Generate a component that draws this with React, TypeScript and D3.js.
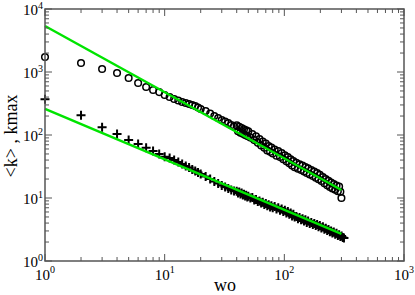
import React from "react";
import * as d3 from "d3";

// kmax (circles)
const woKmax = [1, 2, 3, 4, 5, 6, 7, 8, 9, 10, 11, 12, 13, 14, 15, 16, 17, 18, 19, 20,
  22, 24, 26, 28, 30, 32, 34, 36, 38, 40, 41, 42, 43, 44, 45, 46, 47, 48, 49, 50, 52,
  54, 56, 58, 60, 62, 64, 66, 68, 70, 72, 74, 76, 78, 80, 83, 86, 89, 92, 95, 98, 101,
  104, 107, 110, 113, 116, 119, 122, 126, 130, 134, 138, 142, 146, 150, 154, 158, 163,
  168, 173, 178, 183, 188, 193, 198, 204, 210, 216, 222, 228, 234, 240, 246, 252, 259,
  266, 273, 280, 287, 294, 300];
const kmax = [1730, 1390, 1117, 964, 803, 669, 577, 518, 480, 431, 401, 373, 353, 334,
  322, 310, 299, 289, 273, 259, 240, 219, 200, 186, 173, 164, 155, 144, 136, 142, 115,
  135, 109, 129, 105, 123, 100, 119, 96, 114, 91, 104, 83, 95, 75, 86, 68, 79, 63, 73,
  57, 67, 54, 63, 51, 59, 47, 55.5, 44.6, 51.7, 41.4, 47.8, 38.2, 44.5, 35.5, 41.2,
  32.8, 38.5, 30.9, 36.3, 29.1, 34.3, 27.8, 32.7, 26.4, 31, 25, 29.5, 23.7, 27.7, 22.3,
  26.2, 21, 24.8, 19.8, 23.3, 18.6, 21.6, 17.2, 20, 16, 18.7, 15, 17.6, 14.2, 16.7,
  13.5, 15.8, 12.8, 15.2, 12.6, 10];

// <k> (plus)
const woMean = [1, 2, 3, 4, 5, 6, 7, 8, 9, 10, 11, 12, 13, 14, 15, 16, 17, 18, 19, 20,
  22, 24, 26, 28, 30, 32, 34, 36, 38, 40, 41, 42, 43, 44, 45, 46, 47, 48, 49, 50, 52,
  54, 56, 58, 60, 62, 64, 66, 68, 70, 72, 74, 76, 78, 80, 83, 86, 89, 92, 95, 98, 101,
  104, 107, 110, 113, 116, 119, 122, 126, 130, 134, 138, 142, 146, 150, 154, 158, 163,
  168, 173, 178, 183, 188, 193, 198, 204, 210, 216, 222, 228, 234, 240, 246, 252, 259,
  266, 273, 280, 287, 294, 301, 308, 315];
const kMean = [369, 205, 133, 104, 83, 72, 62.9, 55.7, 49.9, 45.3, 43.1, 40.1, 37.3,
  34.6, 32.2, 30.5, 28.3, 26.8, 25.4, 24.0, 21.9, 20.0, 18.3, 17.0, 15.8, 15.0, 14.2,
  13.4, 12.9, 12.8, 12.0, 12.4, 11.6, 12.0, 11.2, 11.5, 10.8, 11.1, 10.4, 10.7, 10.0,
  10.2, 9.3, 9.5, 8.8, 9.0, 8.3, 8.6, 7.9, 8.2, 7.5, 7.8, 7.2, 7.5, 7.0, 7.3, 6.7, 7.0,
  6.4, 6.7, 6.1, 6.4, 5.8, 6.1, 5.5, 5.8, 5.2, 5.5, 5.0, 5.1, 4.7, 4.9, 4.5, 4.7, 4.3,
  4.5, 4.1, 4.3, 3.95, 4.1, 3.8, 3.95, 3.65, 3.8, 3.5, 3.65, 3.35, 3.5, 3.2, 3.3, 3.05,
  3.15, 2.9, 3.0, 2.78, 2.88, 2.66, 2.75, 2.55, 2.62, 2.45, 2.5, 2.36, 2.32];

// power-law fits (end points)
const fitWo = [1, 300];
const fitKmax = [5370, 13.4];
const fitMean = [259, 2.69];

const xExp = [0, 1, 2, 3];
const yExp = [0, 1, 2, 3, 4];

const W = 415, H = 295;
const left = 45, right = 404, top = 9, bottom = 261;
const axisColor = "#555";
const green = "#00e400";
const serifFont = "Liberation Serif, DejaVu Serif, serif";

export default function App() {
  const x = d3.scaleLog().domain([1, 1000]).range([left, right]);
  const y = d3.scaleLog().domain([1, 10000]).range([bottom, top]);

  const xMinor: number[] = [];
  for (let e = 0; e < 3; e++) for (let m = 2; m <= 9; m++) xMinor.push(m * Math.pow(10, e));
  const yMinor: number[] = [];
  for (let e = 0; e < 4; e++) for (let m = 2; m <= 9; m++) yMinor.push(m * Math.pow(10, e));

  const fitPath = (vals: number[]) =>
    d3.line<number>().x((d) => x(d)).y((d, i) => y(vals[i]))(fitWo) || "";

  return (
    <svg width={W} height={H} style={{ position: "absolute", left: 0, top: 0 }}
      fontFamily={serifFont}>
      <rect width={W} height={H} fill="white" />

      {/* data: kmax circles */}
      <g fill="none" stroke="black" strokeWidth={1.5}>
        {woKmax.map((w, i) => (
          <circle key={i} cx={x(w)} cy={y(kmax[i])} r={3.3} />
        ))}
      </g>

      {/* data: <k> plus */}
      <g stroke="black" strokeWidth={2}>
        {woMean.map((w, i) => {
          const cx = x(w), cy = y(kMean[i]), s = 4.5;
          return (
            <path key={i} d={`M${cx - s},${cy}H${cx + s}M${cx},${cy - s}V${cy + s}`} />
          );
        })}
      </g>

      {/* fits */}
      <g fill="none" stroke={green} strokeWidth={2.5}>
        <path d={fitPath(fitKmax)} />
        <path d={fitPath(fitMean)} />
      </g>

      {/* frame */}
      <rect x={left} y={top} width={right - left} height={bottom - top}
        fill="none" stroke={axisColor} strokeWidth={1.5} />

      {/* ticks */}
      <g stroke={axisColor} strokeWidth={1}>
        {xExp.map((e) => {
          const px = x(Math.pow(10, e));
          return (
            <g key={"xm" + e}>
              <line x1={px} x2={px} y1={bottom} y2={bottom - 7} />
              <line x1={px} x2={px} y1={top} y2={top + 7} />
            </g>
          );
        })}
        {xMinor.map((v, i) => {
          const px = x(v);
          return (
            <g key={"xn" + i}>
              <line x1={px} x2={px} y1={bottom} y2={bottom - 4} />
              <line x1={px} x2={px} y1={top} y2={top + 4} />
            </g>
          );
        })}
        {yExp.map((e) => {
          const py = y(Math.pow(10, e));
          return (
            <g key={"ym" + e}>
              <line x1={left} x2={left + 7} y1={py} y2={py} />
              <line x1={right} x2={right - 7} y1={py} y2={py} />
            </g>
          );
        })}
        {yMinor.map((v, i) => {
          const py = y(v);
          return (
            <g key={"yn" + i}>
              <line x1={left} x2={left + 4} y1={py} y2={py} />
              <line x1={right} x2={right - 4} y1={py} y2={py} />
            </g>
          );
        })}
      </g>

      {/* tick labels */}
      <g fontSize={15} fill="black">
        {xExp.map((e) => (
          <text key={"xl" + e} x={x(Math.pow(10, e))} y={280} textAnchor="middle">
            10<tspan dy={-7} fontSize={10}>{e}</tspan>
          </text>
        ))}
        {yExp.map((e) => (
          <text key={"yl" + e} x={43} y={y(Math.pow(10, e)) + 6} textAnchor="end">
            10<tspan dy={-6} fontSize={10}>{e}</tspan>
          </text>
        ))}
      </g>

      {/* axis titles */}
      <text x={225} y={291} fontSize={18} textAnchor="middle">wo</text>
      <text transform="translate(17,136) rotate(-90)" fontSize={18} textAnchor="middle">
        {"<k> , kmax"}
      </text>
    </svg>
  );
}
